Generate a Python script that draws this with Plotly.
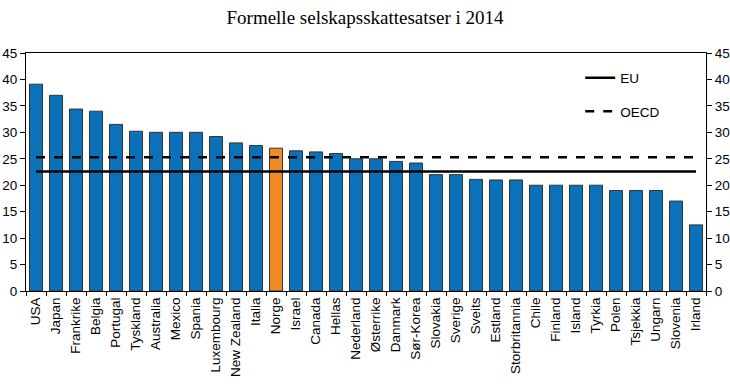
import plotly.graph_objects as go

countries = ["USA", "Japan", "Frankrike", "Belgia", "Portugal", "Tyskland", "Australia", "Mexico",
             "Spania", "Luxembourg", "New Zealand", "Italia", "Norge", "Israel", "Canada", "Hellas",
             "Nederland", "Østerrike", "Danmark", "Sør-Korea", "Slovakia", "Sverige", "Sveits",
             "Estland", "Storbritannia", "Chile", "Finland", "Island", "Tyrkia", "Polen", "Tsjekkia",
             "Ungarn", "Slovenia", "Irland"]
rates = [39.1, 37.0, 34.4, 34.0, 31.5, 30.2, 30.0, 30.0, 30.0, 29.2, 28.0, 27.5, 27.0, 26.5, 26.3,
         26.0, 25.0, 25.0, 24.5, 24.2, 22.0, 22.0, 21.1, 21.0, 21.0, 20.0, 20.0, 20.0, 20.0, 19.0,
         19.0, 19.0, 17.0, 12.5]
eu_avg = 22.6
oecd_avg = 25.3
highlight = "Norge"

blue = "#0B72BA"
orange = "#F08A24"
colors = [orange if c == highlight else blue for c in countries]

fig = go.Figure()
fig.add_trace(go.Bar(x=countries, y=rates, marker=dict(color=colors, line=dict(color="#333333", width=1)),
                     showlegend=False))
fig.add_trace(go.Scatter(x=[countries[0], countries[-1]], y=[eu_avg, eu_avg], mode="lines",
                         line=dict(color="black", width=2.5), name="EU", legendgroup="a"))
fig.add_trace(go.Scatter(x=[countries[0], countries[-1]], y=[oecd_avg, oecd_avg], mode="lines",
                         line=dict(color="black", width=2.5, dash="dash"), name="OECD", legendgroup="b"))
fig.add_trace(go.Scatter(x=[countries[0]], y=[0], yaxis="y2", mode="lines",
                         line=dict(width=0), showlegend=False, hoverinfo="skip"))

tickfont = dict(family="Liberation Sans, Arial", size=13.5, color="black")
fig.update_layout(
    width=730, height=389,
    margin=dict(l=26, r=24, t=53, b=98),
    paper_bgcolor="white", plot_bgcolor="white",
    bargap=0.35,
    title=dict(text="Formelle selskapsskattesatser i 2014", x=0.5, xanchor="center", y=0.955, yanchor="middle",
               font=dict(family="Liberation Serif, Times New Roman", size=19, color="black")),
    xaxis=dict(type="category", range=[-0.5, len(countries) - 0.5], tickangle=-90, tickfont=tickfont,
               showline=True, linecolor="black", linewidth=1, mirror=True, ticks="outside",
               tickson="boundaries", ticklen=4, tickcolor="black", showgrid=False, automargin=False),
    yaxis=dict(range=[0, 45], dtick=5, tickfont=tickfont, showline=True, linecolor="black", linewidth=1,
               ticks="outside", ticklen=5, tickcolor="black", showgrid=False, zeroline=False,
               automargin=False),
    yaxis2=dict(range=[0, 45], dtick=5, tickfont=tickfont, overlaying="y", side="right", showline=True,
                linecolor="black", linewidth=1, ticks="outside", ticklen=5, tickcolor="black",
                showgrid=False, zeroline=False, automargin=False),
    legend=dict(x=0.815, y=0.96, xanchor="left", yanchor="top", bgcolor="rgba(0,0,0,0)",
                font=dict(family="Liberation Sans, Arial", size=13.5, color="black"), tracegroupgap=13),
)
fig.write_html("out.html", config={"displayModeBar": False},
               post_script="document.body.style.margin='0px';")
